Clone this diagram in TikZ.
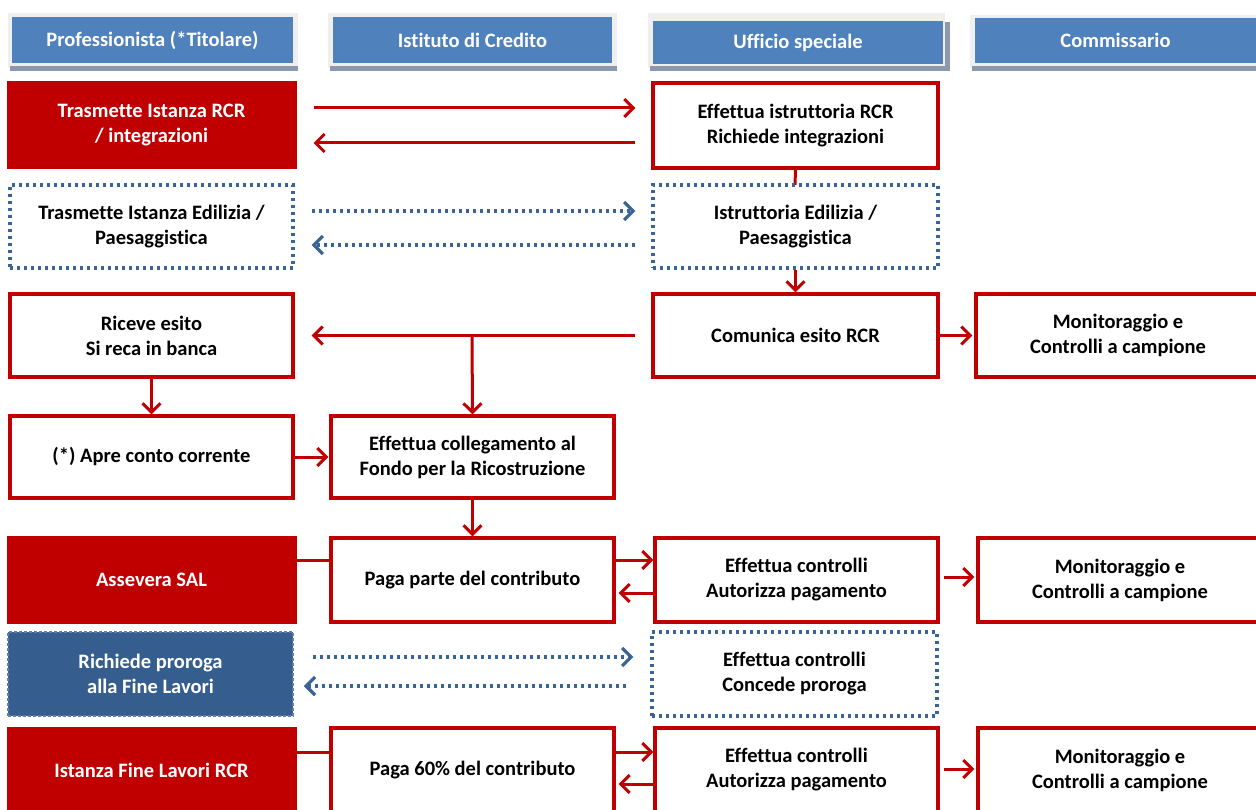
\documentclass[tikz,border=0pt]{standalone}
\usepackage{fontspec}
\setmainfont[Ligatures=NoCommon]{Carlito}
\usetikzlibrary{arrows.meta,calc}
\definecolor{rcr}{HTML}{C00000}
\definecolor{dotblue}{HTML}{3A6396}
\definecolor{hdrblue}{HTML}{4F81BD}
\definecolor{darkblue}{HTML}{355E8F}
\definecolor{hdrlight}{HTML}{EFEFEF}
\definecolor{hdrshadow}{HTML}{8A99AE}
\tikzset{
  x=1pt,y=-1pt,
  txt/.style={font=\fontsize{20.5}{25}\selectfont\bfseries, align=center},
  redbox/.style={txt, draw=rcr, line width=3.2pt, fill=white, inner sep=0pt},
  redfill/.style={txt, draw=rcr, fill=rcr, line width=3pt, text=white, inner sep=0pt},
  dotbox/.style={txt, draw=dotblue, line width=3.2pt, dash pattern=on 3pt off 4pt, fill=white, inner sep=0pt},
  dotfill/.style={txt, draw=dotblue!80!white, fill=darkblue, line width=1.5pt, dash pattern=on 3pt off 2pt, text=white, inner sep=0pt},
  hdr/.style={txt, fill=hdrblue, text=white, inner sep=0pt},
  redarr/.style={draw=rcr, line width=3pt, -{Straight Barb[length=9pt,width=18pt]}},
  redline/.style={draw=rcr, line width=3pt},
  dotarr/.style={draw=dotblue, line width=3.2pt, dash pattern=on 3pt off 4pt, -{Straight Barb[length=9pt,width=18pt]}},
}
\begin{document}
\begin{tikzpicture}
\useasboundingbox (0,0) rectangle (1256,810);
\clip (0,0) rectangle (1256,810);
% header frames
\fill[hdrlight] (8,13) rectangle (298,68);
\fill[hdrshadow] (10,66) rectangle (298,71);
\fill[hdrlight] (328,13) rectangle (617,68);
\fill[hdrshadow] (330,66) rectangle (617,71);
\fill[hdrlight] (648,13) rectangle (945,68);
\fill[hdrshadow] (650,66) rectangle (950,71);
\fill[hdrshadow] (945,22) rectangle (950,71);
\fill[hdrlight] (970,15) rectangle (1256,68);
\fill[hdrshadow] (972,66) rectangle (1256,71);
% headers
\node[hdr, minimum width=281pt, minimum height=46pt] (h1) at (152.5,40) {Professionista (*Titolare)};
\node[hdr, minimum width=279pt, minimum height=46pt] (h2) at (472.5,40) {Istituto di Credito};
\node[hdr, minimum width=290pt, minimum height=43pt] (h3) at (798,42.5) {Ufficio speciale};
\node[hdr, minimum width=281pt, minimum height=45pt] (h4) at (1115.5,40.5) {Commissario};

% row 1
\node[redfill, minimum width=287pt, minimum height=85pt] (t1) at (151.5,125.5) {Trasmette Istanza RCR\\/ integrazioni};
\node[redbox, minimum width=285pt, minimum height=85pt] (u1) at (795.5,125.5) {Effettua istruttoria RCR\\Richiede integrazioni};
% row 2
\node[dotbox, minimum width=283pt, minimum height=83pt] (t2) at (151.5,226.5) {Trasmette Istanza Edilizia /\\Paesaggistica};
\draw[redline] (u1.south) -- (795,185);
\node[dotbox, minimum width=285pt, minimum height=83pt] (u2) at (795.5,226.5) {Istruttoria Edilizia /\\Paesaggistica};
% row 3
\node[redbox, minimum width=283pt, minimum height=83pt] (t3) at (151.5,335.5) {Riceve esito\\Si reca in banca};
\node[redbox, minimum width=285pt, minimum height=83pt] (u3) at (795.5,335.5) {Comunica esito RCR};
\node[redbox, minimum width=284pt, minimum height=83pt] (c3) at (1118,335.5) {Monitoraggio e\\Controlli a campione};
% row 4
\node[redbox, minimum width=283pt, minimum height=82pt] (t4) at (151.5,457) {(*) Apre conto corrente};
\node[redbox, minimum width=283pt, minimum height=82pt] (b4) at (472.5,457) {Effettua collegamento al\\Fondo per la Ricostruzione};
% row 5
\node[redfill, minimum width=287pt, minimum height=85pt] (t5) at (151.5,579.5) {Assevera SAL};
\node[redbox, minimum width=283pt, minimum height=84pt] (b5) at (472.5,580) {Paga parte del contributo};
\node[redbox, minimum width=283pt, minimum height=84pt] (u5) at (796.5,580) {Effettua controlli\\Autorizza pagamento};
\node[redbox, minimum width=284pt, minimum height=84pt] (c5) at (1120,580) {Monitoraggio e\\Controlli a campione};
% row 6
\node[dotfill, minimum width=285pt, minimum height=84pt] (t6) at (150.5,674) {Richiede proroga\\alla Fine Lavori};
\node[dotbox, minimum width=285pt, minimum height=84pt] (u6) at (794.5,674) {Effettua controlli\\Concede proroga};
% row 7
\node[redfill, minimum width=287pt, minimum height=84pt] (t7) at (151.5,770) {Istanza Fine Lavori RCR};
\node[redbox, minimum width=283pt, minimum height=84pt] (b7) at (472.5,770) {Paga 60\% del contributo};
\node[redbox, minimum width=283pt, minimum height=84pt] (u7) at (796.5,770) {Effettua controlli\\Autorizza pagamento};
\node[redbox, minimum width=284pt, minimum height=84pt] (c7) at (1120,770) {Monitoraggio e\\Controlli a campione};

% connectors row 1
\draw[redarr, shorten <=17pt, shorten >=16pt] (t1.east |- 0,108) -- (u1.west |- 0,108);
\draw[redarr, shorten <=16pt, shorten >=17pt] (u1.west |- 0,143) -- (t1.east |- 0,143);
% row 2
\draw[dotarr, shorten <=17pt, shorten >=16pt] (t2.east |- 0,211) -- (u2.west |- 0,211);
\draw[dotarr, shorten <=16pt, shorten >=17pt] (u2.west |- 0,245) -- (t2.east |- 0,245);
\draw[redarr] (u2.south) -- (u3.north);
% row 3
\coordinate (br) at (472,335);
\draw[redarr, shorten <=16pt, shorten >=17pt] (u3.west) -- (t3.east);
\draw[redarr] (br) -- (b4.north);
\draw[redarr, shorten >=2pt] (u3.east) -- (c3.west);
\draw[redarr] (t3.south) -- (t4.north);
% row 4
\draw[redarr, shorten >=1pt] (t4.east) -- (b4.west);
\draw[redarr] (b4.south) -- (b5.north);
% row 5
\draw[redline] (t5.east |- 0,560) -- (b5.west |- 0,560);
\draw[redarr] (b5.east |- 0,560) -- (u5.west |- 0,560);
\draw[redarr, shorten >=3pt] (u5.west |- 0,593) -- (b5.east |- 0,593);
\draw[redarr, shorten <=4pt, shorten >=2pt] (u5.east |- 0,577) -- (c5.west |- 0,577);
% row 6
\draw[dotarr, shorten <=19pt, shorten >=17pt] (t6.east |- 0,657) -- (u6.west |- 0,657);
\draw[dotarr, shorten <=24pt, shorten >=10pt] (u6.west |- 0,686) -- (t6.east |- 0,686);
% row 7
\draw[redline] (t7.east |- 0,752) -- (b7.west |- 0,752);
\draw[redarr] (b7.east |- 0,752) -- (u7.west |- 0,752);
\draw[redarr, shorten >=3pt] (u7.west |- 0,784) -- (b7.east |- 0,784);
\draw[redarr, shorten <=4pt, shorten >=2pt] (u7.east |- 0,769) -- (c7.west |- 0,769);
\end{tikzpicture}
\end{document}
